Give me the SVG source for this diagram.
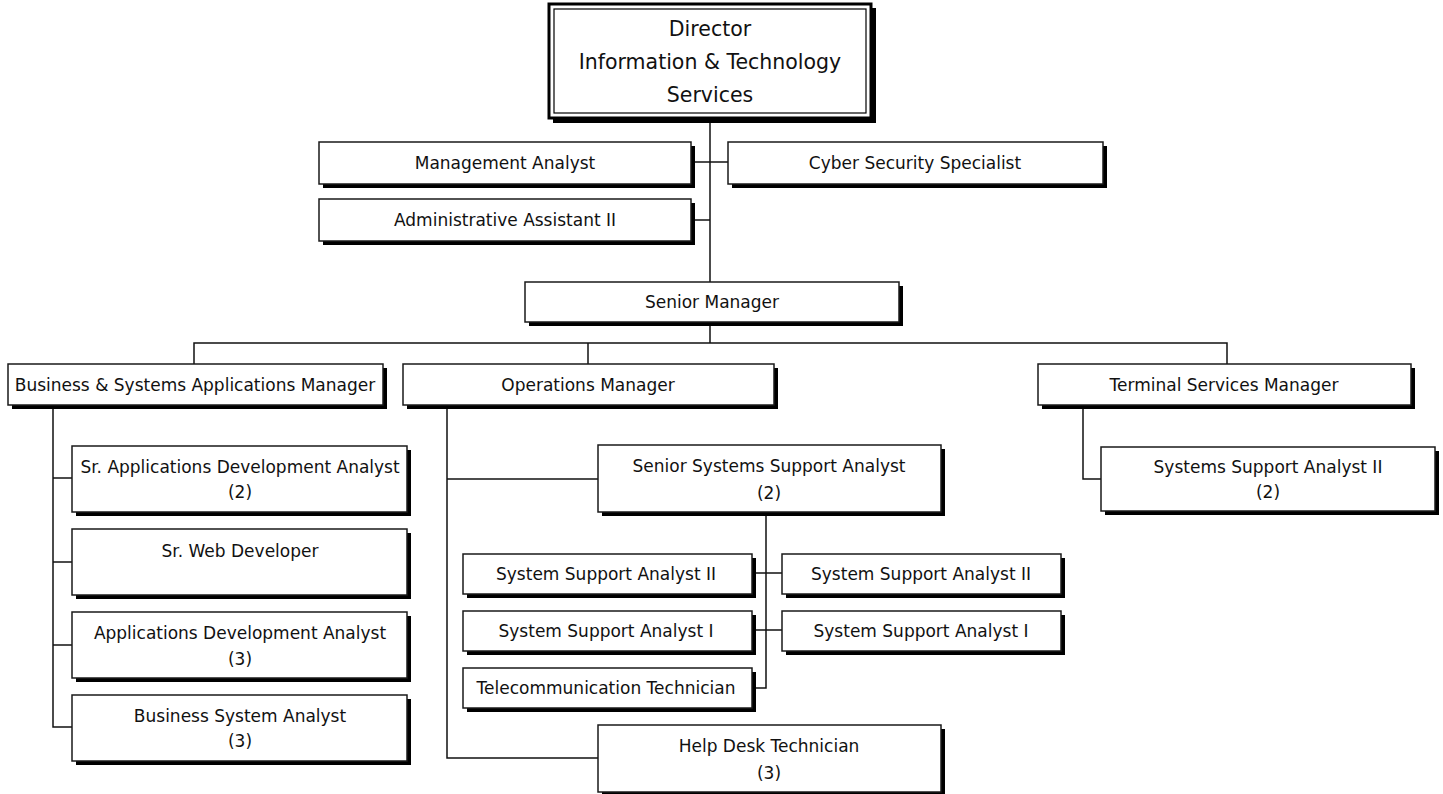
<svg xmlns="http://www.w3.org/2000/svg" width="1443" height="794" viewBox="0 0 1443 794">
  <style>
    .box { fill: #fff; stroke: #1a1a1a; stroke-width: 1.5; }
    .shadow { fill: #000; }
    .wire { fill: none; stroke: #111; stroke-width: 1.5; }
    text { font-family: "DejaVu Sans", "Liberation Sans", sans-serif; font-size: 17px; fill: #111; text-anchor: middle; }
    .title { font-size: 20.5px; }
  </style>
  <rect width="1443" height="794" fill="#fff"/>

  <!-- connectors -->
  <g id="connectors" class="wire">
    <path d="M710 118 V343"/>
    <path d="M691 162 H728"/>
    <path d="M691 220 H710"/>
    <path d="M194 364 V343 H1227 V364"/>
    <path d="M588 343 V364"/>
    <path d="M53 405 V727 H72"/>
    <path d="M53 478 H72"/>
    <path d="M53 562 H72"/>
    <path d="M53 645 H72"/>
    <path d="M447 405 V758 H598"/>
    <path d="M447 479 H598"/>
    <path d="M766 512 V688 H752"/>
    <path d="M752 573 H782"/>
    <path d="M752 630 H782"/>
    <path d="M1083 405 V479 H1101"/>
  </g>

  <!-- director -->
  <g id="director">
    <rect class="shadow" x="553" y="8" width="323" height="115"/>
    <rect x="549" y="4" width="322" height="114" fill="#fff" stroke="#000" stroke-width="3"/>
    <rect x="554" y="9" width="312" height="104" fill="none" stroke="#000" stroke-width="1.2"/>
    <text class="title" x="710" y="36">Director</text>
    <text class="title" x="710" y="69">Information &amp; Technology</text>
    <text class="title" x="710" y="102">Services</text>
  </g>

  <g id="management-analyst">
    <rect class="shadow" x="323" y="146" width="372" height="42"/>
    <rect class="box" x="319" y="142" width="372" height="42"/>
    <text x="505" y="169">Management Analyst</text>
  </g>

  <g id="cyber-security">
    <rect class="shadow" x="732" y="146" width="375" height="42"/>
    <rect class="box" x="728" y="142" width="375" height="42"/>
    <text x="915" y="169">Cyber Security Specialist</text>
  </g>

  <g id="admin-assistant">
    <rect class="shadow" x="323" y="203" width="372" height="42"/>
    <rect class="box" x="319" y="199" width="372" height="42"/>
    <text x="505" y="226">Administrative Assistant II</text>
  </g>

  <g id="senior-manager">
    <rect class="shadow" x="529" y="286" width="374" height="40"/>
    <rect class="box" x="525" y="282" width="374" height="40"/>
    <text x="712" y="308">Senior Manager</text>
  </g>

  <g id="bsa-manager">
    <rect class="shadow" x="12" y="368" width="375" height="41"/>
    <rect class="box" x="8" y="364" width="375" height="41"/>
    <text x="195" y="391">Business &amp; Systems Applications Manager</text>
  </g>

  <g id="operations-manager">
    <rect class="shadow" x="407" y="368" width="371" height="41"/>
    <rect class="box" x="403" y="364" width="371" height="41"/>
    <text x="588" y="391">Operations Manager</text>
  </g>

  <g id="terminal-manager">
    <rect class="shadow" x="1042" y="368" width="373" height="41"/>
    <rect class="box" x="1038" y="364" width="373" height="41"/>
    <text x="1224" y="391">Terminal Services Manager</text>
  </g>

  <g id="sr-app-dev">
    <rect class="shadow" x="76" y="450" width="335" height="66"/>
    <rect class="box" x="72" y="446" width="335" height="66"/>
    <text x="240" y="473">Sr. Applications Development Analyst</text>
    <text x="240" y="498">(2)</text>
  </g>

  <g id="sr-web-dev">
    <rect class="shadow" x="76" y="533" width="335" height="66"/>
    <rect class="box" x="72" y="529" width="335" height="66"/>
    <text x="240" y="557">Sr. Web Developer</text>
  </g>

  <g id="app-dev">
    <rect class="shadow" x="76" y="616" width="335" height="66"/>
    <rect class="box" x="72" y="612" width="335" height="66"/>
    <text x="240" y="639">Applications Development Analyst</text>
    <text x="240" y="665">(3)</text>
  </g>

  <g id="business-system">
    <rect class="shadow" x="76" y="699" width="335" height="66"/>
    <rect class="box" x="72" y="695" width="335" height="66"/>
    <text x="240" y="722">Business System Analyst</text>
    <text x="240" y="747">(3)</text>
  </g>

  <g id="senior-support">
    <rect class="shadow" x="602" y="449" width="343" height="67"/>
    <rect class="box" x="598" y="445" width="343" height="67"/>
    <text x="769" y="472">Senior Systems Support Analyst</text>
    <text x="769" y="499">(2)</text>
  </g>

  <g id="ssa2-left">
    <rect class="shadow" x="467" y="558" width="289" height="40"/>
    <rect class="box" x="463" y="554" width="289" height="40"/>
    <text x="606" y="580">System Support Analyst II</text>
  </g>

  <g id="ssa2-right">
    <rect class="shadow" x="786" y="558" width="279" height="40"/>
    <rect class="box" x="782" y="554" width="279" height="40"/>
    <text x="921" y="580">System Support Analyst II</text>
  </g>

  <g id="ssa1-left">
    <rect class="shadow" x="467" y="615" width="289" height="40"/>
    <rect class="box" x="463" y="611" width="289" height="40"/>
    <text x="606" y="637">System Support Analyst I</text>
  </g>

  <g id="ssa1-right">
    <rect class="shadow" x="786" y="615" width="279" height="40"/>
    <rect class="box" x="782" y="611" width="279" height="40"/>
    <text x="921" y="637">System Support Analyst I</text>
  </g>

  <g id="telecom">
    <rect class="shadow" x="467" y="672" width="289" height="40"/>
    <rect class="box" x="463" y="668" width="289" height="40"/>
    <text x="606" y="694">Telecommunication Technician</text>
  </g>

  <g id="help-desk">
    <rect class="shadow" x="602" y="729" width="343" height="67"/>
    <rect class="box" x="598" y="725" width="343" height="67"/>
    <text x="769" y="752">Help Desk Technician</text>
    <text x="769" y="779">(3)</text>
  </g>

  <g id="terminal-ssa2">
    <rect class="shadow" x="1105" y="451" width="334" height="64"/>
    <rect class="box" x="1101" y="447" width="334" height="64"/>
    <text x="1268" y="473">Systems Support Analyst II</text>
    <text x="1268" y="498">(2)</text>
  </g>
</svg>
